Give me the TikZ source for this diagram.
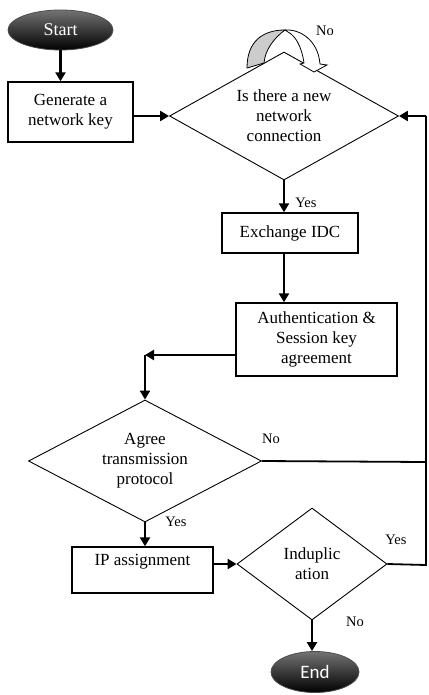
\documentclass[tikz,border=0pt]{standalone}
\usepackage{fontspec}
\setmainfont{Liberation Serif}
\newfontfamily\endfont{Carlito}
\usetikzlibrary{shapes.geometric,arrows.meta}
\begin{document}
\begin{tikzpicture}[x=1pt,y=1pt,
  txt/.style={font=\fontsize{17}{20}\selectfont, align=center, text=black},
  procbox/.style={txt, draw, line width=1.4pt, rectangle, inner sep=0pt},
  decision/.style={txt, draw, line width=0.9pt, diamond, inner sep=0pt},
  term/.style={ellipse, draw=black!70, line width=0.8pt, top color=black!55, bottom color=black, inner sep=0pt},
  flow/.style={line width=2.6pt, -{Triangle[length=9pt,width=10pt]}},
  back/.style={line width=1.8pt},
  lbl/.style={font=\fontsize{14.5}{16}\selectfont, inner sep=0pt}]
\fill[white] (0,0) rectangle (428,-695);
\useasboundingbox (0,0) rectangle (428,-695);

% nodes
\node[term, minimum width=105pt, minimum height=40pt] (start) at (60.5,-30) {\textcolor{white}{\fontsize{18}{20}\selectfont Start}};
\node[procbox, minimum width=125pt, minimum height=60pt] (gen) at (70.5,-112) {Generate a\\network key};
\node[decision, minimum width=229pt, minimum height=128pt, aspect=1.79] (d1) at (284,-116) {Is there a new\\network\\connection};
\node[procbox, minimum width=136pt, minimum height=40pt] (exch) at (290,-233) {Exchange IDC};
\node[procbox, minimum width=161pt, minimum height=73pt] (auth) at (316.5,-339.5) {Authentication \&\\Session key\\agreement};
\node[decision, minimum width=233pt, minimum height=122pt, aspect=1.9] (d2) at (145,-461) {Agree\\transmission\\protocol};
\node[procbox, minimum width=141pt, minimum height=46pt] (ip) at (142.5,-570) {};
\node[txt] (iptext) at (142.5,-562) {IP assignment};
\node[decision, minimum width=150pt, minimum height=112pt, aspect=1.34] (d3) at (312,-564) {Induplic\\ation};
\node[term, minimum width=88pt, minimum height=41pt] (end) at (315,-672) {\textcolor{white}{\endfont\fontsize{19}{20}\selectfont End}};

% loop-back curved arrow on top of first decision
\filldraw[fill=gray!40, line width=0.8pt] (247,-68) .. controls (247,-42) and (262,-30) .. (285,-30) .. controls (274,-38) and (265,-50) .. (264,-63) -- cycle;
\filldraw[fill=white, line width=0.8pt] (285,-30) .. controls (300,-29) and (318,-40) .. (320,-64) -- (327,-65) -- (314,-72) -- (300,-64) -- (304,-63) .. controls (302,-48) and (296,-36) .. (288,-32) -- cycle;

% coordinates
\coordinate (c1) at (145,-355);
\coordinate (r1) at (426,-116);
\coordinate (r2) at (426,-462);
\coordinate (r3) at (426,-565);

% connectors
\draw[flow] (start.south) -- (start.south |- gen.north);
\draw[flow] (gen.east |- d1.west) -- (d1.west);
\draw[flow] (d1.south) -- (d1.south |- exch.north);
\draw[flow] (d1.south |- exch.south) -- (d1.south |- auth.north);
\draw[flow] (auth.west |- c1) -- (c1);
\draw[flow] (c1) -- (d2.north);
\draw[back] (d2.east) -- (r2);
\draw[flow] (d2.south) -- (d2.south |- ip.north);
\draw[flow] (ip.east |- d3.west) -- (d3.west);
\draw[back] (d3.east) -- (r3) -- (r1);
\draw[flow] (r1) -- (d1.east);
\draw[flow] (d3.south) -- (d3.south |- end.north);

% labels
\node[lbl] (no1) at (325,-31) {No};
\node[lbl] (yes1) at (306,-203) {Yes};
\node[lbl] (no2) at (271,-439) {No};
\node[lbl] (yes2) at (176,-522) {Yes};
\node[lbl] (yes3) at (396,-540) {Yes};
\node[lbl] (no3) at (355,-622) {No};
\end{tikzpicture}
\end{document}
